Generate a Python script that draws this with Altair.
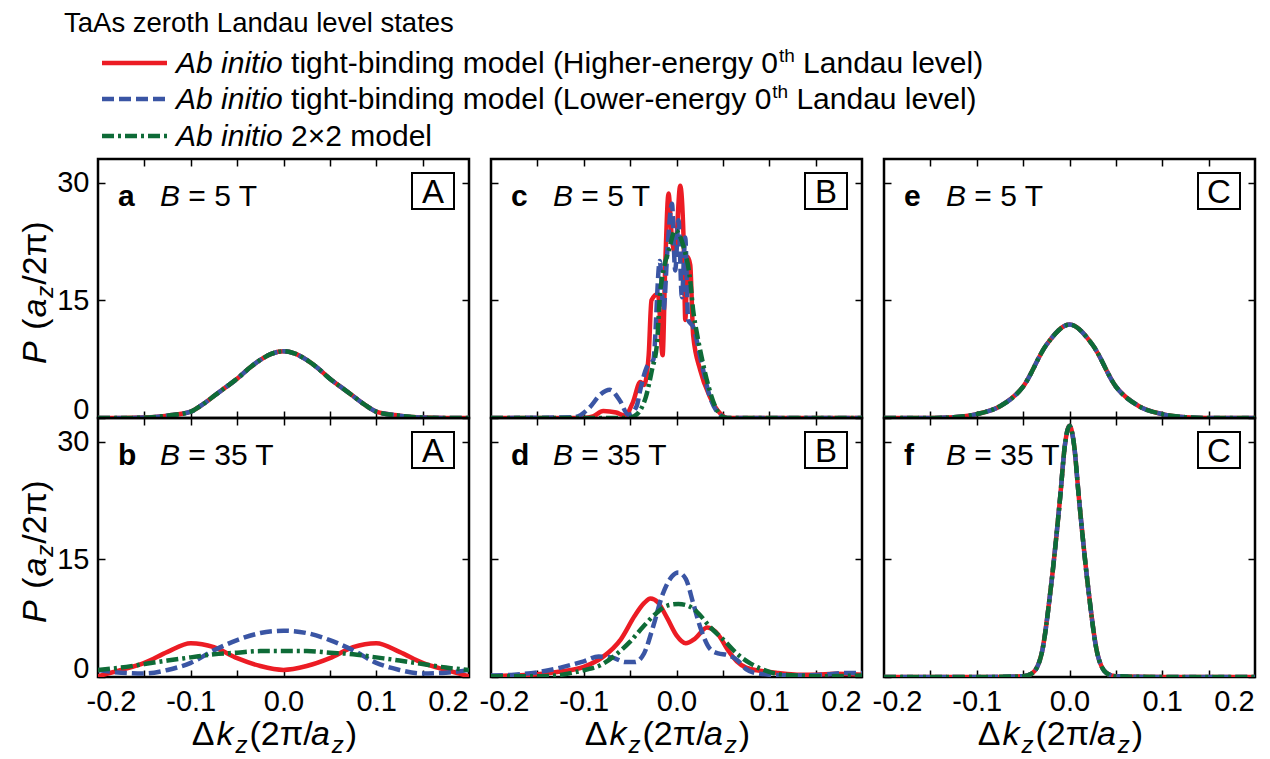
import altair as alt
import pandas as pd

FONT = "Liberation Sans"
W, H = 371, 259

# ---------------- text content ----------------
TITLE = "TaAs zeroth Landau level states"
LEGEND_ITALIC = "Ab initio"
LEGEND_PARTS = [
    ["tight-binding model (Higher-energy 0", "th", "Landau level)"],
    ["tight-binding model (Lower-energy 0", "th", "Landau level)"],
    ["2×2 model", "", ""],
]
SERIES = ["TB higher", "TB lower", "2x2"]
COLORS = ["#EC1C24", "#3A55A4", "#0E6B37"]
DASHES = [None, [12, 5], [12, 4, 3, 4]]

PANEL_LETTERS = ["a", "b", "c", "d", "e", "f"]
PANEL_FIELDS = ["5 T", "35 T", "5 T", "35 T", "5 T", "35 T"]
PANEL_NODES = ["A", "A", "B", "B", "C", "C"]

X_LABELS = [-0.2, -0.1, 0.0, 0.1, 0.2]
X_TICKS = [-0.15, -0.1, -0.05, 0.0, 0.05, 0.1, 0.15]
Y_LABELS = [0, 15, 30]
X_DOMAIN = [-0.2, 0.2]
Y_DOMAIN = [0, 33]

XTITLE_PARTS = [("Δ", "normal", False), ("k", "italic", False), ("z", "italic", True),
                ("(2π/", "normal", False), ("a", "italic", False), ("z", "italic", True),
                (")", "normal", False)]
YTITLE_PARTS = [("P", "italic", False), (" ", "normal", False), ("(", "normal", False),
                ("a", "italic", False), ("z", "italic", True), ("/2π)", "normal", False)]

# ---------------- data ----------------
# panel a: B = 5 T, node A (all three models coincide)
A_X = [-0.2, -0.175, -0.15, -0.125, -0.1, -0.0875, -0.075, -0.0625, -0.05, -0.0375, -0.025, -0.0125, 0.0,
       0.0125, 0.025, 0.0375, 0.05, 0.0625, 0.075, 0.0875, 0.1, 0.125, 0.15, 0.175, 0.2]
A_P = [0.0, 0.0, 0.05, 0.3, 0.8, 1.7, 2.8, 3.9, 5.0, 6.3, 7.4, 8.2, 8.5,
       8.2, 7.4, 6.3, 5.0, 3.9, 2.8, 1.7, 0.8, 0.3, 0.05, 0.0, 0.0]

# panel b: B = 35 T, node A
B_X = [-0.2, -0.175, -0.15, -0.125, -0.1, -0.075, -0.05, -0.025, 0.0,
       0.025, 0.05, 0.075, 0.1, 0.125, 0.15, 0.175, 0.2]
B_RED = [0.1, 0.9, 1.8, 3.2, 4.3, 3.8, 2.4, 1.4, 0.9, 1.4, 2.4, 3.8, 4.3, 3.2, 1.8, 0.9, 0.1]
B_BLUE = [0.9, 0.55, 0.45, 0.9, 1.8, 3.4, 4.7, 5.6, 5.9, 5.6, 4.7, 3.4, 1.8, 0.9, 0.45, 0.55, 0.9]
B_GREEN = [0.9, 1.2, 1.65, 2.1, 2.5, 2.9, 3.1, 3.3, 3.3, 3.3, 3.1, 2.9, 2.5, 2.1, 1.65, 1.2, 0.9]

# panel c: B = 5 T, node B
C_RED_X = [-0.2, -0.1, -0.09, -0.079, -0.065, -0.0555, -0.047, -0.039, -0.035, -0.03, -0.027, -0.02,
           -0.015, -0.012, -0.0086, -0.005, -0.0015, 0.004, 0.0076, 0.0095, 0.012, 0.0148, 0.018,
           0.0256, 0.036, 0.047, 0.055, 0.1, 0.2]
C_RED_P = [0.0, 0.0, 0.2, 0.9, 0.7, 0.3, 2.0, 4.6, 4.2, 8.0, 15.0, 15.8,
           8.0, 20.0, 28.6, 23.0, 21.0, 29.6, 23.0, 12.5, 20.5, 19.5, 10.5,
           6.1, 2.7, 0.6, 0.0, 0.0, 0.0]
C_BLUE_X = [-0.2, -0.11, -0.094, -0.082, -0.072, -0.061, -0.052, -0.043, -0.039, -0.032, -0.025, -0.018,
            -0.014, -0.01, -0.0049, -0.0014, 0.0022, 0.0058, 0.0094, 0.0126, 0.018, 0.027, 0.036,
            0.047, 0.055, 0.2]
C_BLUE_P = [0.0, 0.1, 1.3, 3.0, 3.6, 2.2, 0.4, 1.5, 3.6, 6.5, 7.4, 20.0,
            13.7, 21.0, 27.3, 18.8, 25.2, 15.4, 23.0, 12.5, 11.6, 7.0, 2.7,
            0.4, 0.0, 0.0]
C_GREEN_X = [-0.2, -0.05, -0.046, -0.039, -0.033, -0.0265, -0.021, -0.018, -0.014, -0.008, -0.0014,
             0.0076, 0.0148, 0.018, 0.022, 0.027, 0.0346, 0.042, 0.049, 0.055, 0.2]
C_GREEN_P = [0.0, 0.0, 0.2, 1.0, 2.7, 6.1, 9.5, 15.4, 18.8, 21.5, 23.9,
             21.8, 17.5, 13.7, 10.8, 7.8, 4.0, 1.4, 0.2, 0.0, 0.0]

# panel d: B = 35 T, node B
D_RED_X = [-0.2, -0.175, -0.15, -0.125, -0.1, -0.08, -0.06, -0.045, -0.035, -0.028, -0.02, -0.01, 0.0,
           0.01, 0.02, 0.033, 0.045, 0.055, 0.065, 0.075, 0.09, 0.11, 0.13, 0.15, 0.17, 0.2]
D_RED_P = [0.1, 0.2, 0.35, 0.7, 1.3, 2.5, 4.8, 7.8, 9.4, 10.0, 9.5, 7.5, 5.3,
           4.3, 4.9, 6.3, 5.4, 3.5, 2.0, 1.2, 0.8, 0.5, 0.3, 0.3, 0.4, 0.3]
D_BLUE_X = [-0.2, -0.175, -0.15, -0.125, -0.1, -0.084, -0.07, -0.055, -0.045, -0.035, -0.025, -0.015,
            -0.005, 0.002, 0.01, 0.018, 0.026, 0.036, 0.045, 0.055, 0.065, 0.075, 0.085, 0.1, 0.13,
            0.16, 0.18, 0.2]
D_BLUE_P = [0.2, 0.3, 0.6, 1.2, 2.0, 2.6, 2.5, 1.9, 1.9, 3.0, 6.5, 10.5,
            12.8, 13.3, 12.5, 9.4, 6.2, 3.6, 3.0, 2.8, 2.2, 1.0, 0.5, 0.3, 0.2,
            0.3, 0.5, 0.5]
D_GREEN_X = [-0.2, -0.15, -0.13, -0.11, -0.095, -0.082, -0.068, -0.05, -0.036, -0.022, -0.01, 0.002,
             0.012, 0.022, 0.036, 0.051, 0.065, 0.08, 0.094, 0.108, 0.13, 0.16, 0.2]
D_GREEN_P = [0.1, 0.1, 0.2, 0.6, 1.0, 1.5, 2.6, 4.5, 6.4, 8.1, 9.1, 9.3,
             9.1, 8.3, 6.4, 4.7, 3.0, 1.7, 0.9, 0.4, 0.2, 0.1, 0.2]

# panel e: B = 5 T, node C (all three models coincide)
E_X = [-0.2, -0.15, -0.125, -0.1, -0.075, -0.05, -0.025, 0.0, 0.025, 0.05, 0.075, 0.1, 0.125, 0.15, 0.2]
E_P = [0.0, 0.0, 0.1, 0.5, 1.5, 4.0, 9.3, 11.9, 9.3, 4.0, 1.5, 0.5, 0.1, 0.0, 0.0]

# panel f: B = 35 T, node C (all three models coincide)
F_X = [-0.2, -0.1, -0.05, -0.04, -0.03, -0.02, -0.01, -0.005, 0.0, 0.005, 0.01, 0.02, 0.03, 0.04, 0.05, 0.1, 0.2]
F_P = [0.0, 0.0, 0.1, 0.5, 3.0, 11.5, 23.0, 29.5, 32.0, 29.5, 23.0, 11.5, 3.0, 0.5, 0.1, 0.0, 0.0]

PANEL_DATA = {
    "a": [(A_X, A_P), (A_X, A_P), (A_X, A_P)],
    "b": [(B_X, B_RED), (B_X, B_BLUE), (B_X, B_GREEN)],
    "c": [(C_RED_X, C_RED_P), (C_BLUE_X, C_BLUE_P), (C_GREEN_X, C_GREEN_P)],
    "d": [(D_RED_X, D_RED_P), (D_BLUE_X, D_BLUE_P), (D_GREEN_X, D_GREEN_P)],
    "e": [(E_X, E_P), (E_X, E_P), (E_X, E_P)],
    "f": [(F_X, F_P), (F_X, F_P), (F_X, F_P)],
}

# ---------------- helpers ----------------
_REG = {' ': 278, '(': 333, ')': 333, '-': 333, '.': 278, '/': 278, '=': 584, '×': 584,
        'A': 667, 'B': 667, 'C': 722, 'H': 722, 'L': 556, 'P': 667, 'T': 611, 'a': 556, 'b': 556,
        'c': 500, 'd': 556, 'e': 556, 'f': 278, 'g': 556, 'h': 556, 'i': 222, 'k': 500, 'l': 222,
        'm': 833, 'n': 556, 'o': 556, 'r': 333, 's': 500, 't': 278, 'u': 556, 'v': 500, 'w': 722,
        'y': 500, 'z': 500, 'Δ': 668, 'π': 580}
for _d in "0123456789":
    _REG[_d] = 556


def tw(s, size):
    return sum(_REG.get(c, 556) for c in s) * size / 1000.0


def txt(s, x, y, size, style="normal", weight="normal", align="left", baseline="alphabetic", angle=0):
    return alt.Chart(pd.DataFrame({"t": [s]})).mark_text(
        font=FONT, fontSize=size, fontStyle=style, fontWeight=weight, align=align,
        baseline=baseline, angle=angle, color="black"
    ).encode(text="t:N", x=alt.value(x), y=alt.value(y))


XS = alt.Scale(domain=X_DOMAIN, nice=False, zero=False)
YS = alt.Scale(domain=Y_DOMAIN, nice=False, zero=False)
FRAME = pd.DataFrame({"dk": X_DOMAIN, "P": Y_DOMAIN})

X_LABEL_EXPR = "datum.value < 0 ? '-' + format(abs(datum.value), '.1f') : format(datum.value, '.1f')"
TICK_FS = 29


def main_axes(xlabels, ylabels):
    xa = alt.Axis(orient="bottom", values=X_LABELS, labels=xlabels, labelExpr=X_LABEL_EXPR,
                  ticks=False, domain=False, grid=False, title=None, labelFontSize=TICK_FS,
                  labelFont=FONT, labelColor="black", labelPadding=10, labelFlush=False,
                  labelOffset={"condition": [{"test": "datum.value < -0.15", "value": 13},
                                             {"test": "datum.value > 0.15", "value": -21}],
                               "value": 0})
    ya = alt.Axis(orient="left", values=Y_LABELS, labels=ylabels, ticks=False, domain=False,
                  grid=False, title=None, labelFontSize=TICK_FS, labelFont=FONT, labelColor="black",
                  labelPadding=9, labelFlush=False,
                  labelBaseline={"condition": {"test": "datum.value == 0", "value": "alphabetic"},
                                 "value": "middle"})
    return xa, ya


def tick_layer(xorient, yorient):
    tk = dict(labels=False, title=None, domain=False, grid=False, ticks=True, tickSize=7,
              tickWidth=1.5, tickColor="black")
    return alt.Chart(FRAME).mark_point(opacity=0).encode(
        x=alt.X("dk:Q", scale=XS, axis=alt.Axis(orient=xorient, offset=-H, values=X_TICKS, **tk)),
        y=alt.Y("P:Q", scale=YS, axis=alt.Axis(orient=yorient, offset=-W, values=Y_LABELS, **tk)),
    )


def line_layer(xs, ps, i, axes=None):
    df = pd.DataFrame({"dk": xs, "P": ps})
    kw = dict(color=COLORS[i], strokeWidth=4.5, interpolate="monotone", clip=True, strokeCap="butt")
    if DASHES[i]:
        kw["strokeDash"] = DASHES[i]
    xa, ya = axes if axes else (None, None)
    return alt.Chart(df).mark_line(**kw).encode(
        x=alt.X("dk:Q", scale=XS, axis=xa),
        y=alt.Y("P:Q", scale=YS, axis=ya),
    )


def panel(idx, col, row):
    letter = PANEL_LETTERS[idx]
    layers = []
    # panel annotation
    layers.append(txt(letter, 20, 47, 30, weight="bold"))
    layers.append(txt("B", 62, 47, 30, style="italic"))
    layers.append(txt("= " + PANEL_FIELDS[idx], 62 + tw("B ", 30), 47, 30))
    box = alt.Chart(pd.DataFrame({"n": [PANEL_NODES[idx]]})).mark_rect(
        fill="white", stroke="black", strokeWidth=2
    ).encode(x=alt.value(W - 57), x2=alt.value(W - 15), y=alt.value(14), y2=alt.value(50))
    layers.append(box)
    layers.append(txt(PANEL_NODES[idx], W - 36, 44, 33, align="center"))

    # lines
    data = PANEL_DATA[letter]
    axes = main_axes(row == 1, col == 0)
    for i, (xs, ps) in enumerate(data):
        layers.append(line_layer(xs, ps, i, axes if i == 0 else None))

    # inward ticks on four sides
    layers.append(tick_layer("top", "right"))
    layers.append(tick_layer("bottom", "left"))

    # x title (bottom row)
    if row == 1:
        fs, sub = 34, 24
        gap = 2
        total = sum(tw(p, sub if s else fs) + gap for p, _, s in XTITLE_PARTS)
        x = W / 2 - 8 - total / 2
        for p, st, s in XTITLE_PARTS:
            size = sub if s else fs
            layers.append(txt(p, x, H + 68 + (8 if s else 0), size, style=st))
            x += tw(p, size) + gap

    # y title (left column)
    if col == 0:
        fs, sub = 34, 24
        y = 205
        for p, st, s in YTITLE_PARTS:
            size = sub if s else fs
            if p.strip():
                layers.append(txt(p, -52 + (7 if s else 0), y, size, style=st, angle=270))
            y -= tw(p, size) + 1

    # legend above panel a
    if letter == "a":
        layers.append(txt(TITLE, -34, -127, 27.5))
        ly = [-96, -60, -23]
        lfs = 30
        sfs = 19
        for i in range(3):
            rkw = dict(color=COLORS[i], strokeWidth=4.5, strokeCap="butt")
            if DASHES[i]:
                rkw["strokeDash"] = DASHES[i]
            layers.append(alt.Chart(pd.DataFrame({"s": [SERIES[i]]})).mark_rule(**rkw).encode(
                x=alt.value(4), x2=alt.value(69), y=alt.value(ly[i])))
            x = 78
            layers.append(txt(LEGEND_ITALIC, x, ly[i] + 10, lfs, style="italic"))
            x += tw(LEGEND_ITALIC + " ", lfs)
            main, sup, rest = LEGEND_PARTS[i]
            layers.append(txt(main, x, ly[i] + 10, lfs))
            x += tw(main, lfs)
            if sup:
                layers.append(txt(sup, x + 1, ly[i] - 1, sfs))
                x += tw(sup, sfs) + 1 + tw(" ", lfs)
                layers.append(txt(rest, x, ly[i] + 10, lfs))

    return alt.layer(*layers).resolve_axis(x="independent", y="independent").properties(
        width=W, height=H)


panels = [panel(0, 0, 0), panel(2, 1, 0), panel(4, 2, 0),
          panel(1, 0, 1), panel(3, 1, 1), panel(5, 2, 1)]

chart = alt.concat(*panels, columns=3, spacing={"row": 0, "column": 22}, bounds="flush").properties(
    padding={"left": 17, "top": 8, "right": 5, "bottom": 5},
    background="white",
).configure_view(stroke="black", strokeWidth=2.5).configure_axis(
    labelFont=FONT
).configure_text(font=FONT)

chart.save("out.html", embed_options={"renderer": "svg", "actions": False})
